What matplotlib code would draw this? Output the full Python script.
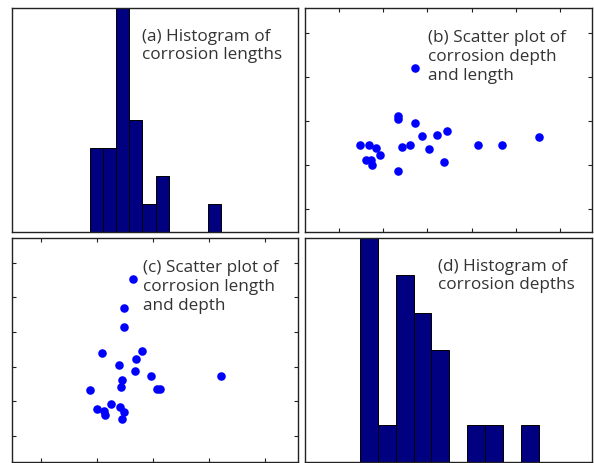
import numpy as np
import matplotlib.pyplot as plt

# corrosion defects: length (mm) and depth (mm), one entry per defect
length = [82, 73.5, 73.5, 54, 89.5, 84.5, 69, 83.5, 98, 160.5, 72.5,
          71, 43.5, 103, 106, 62, 50, 56, 56.5, 70, 73.5, 72.5]
depth = [4.52, 3.69, 3.15, 2.38, 2.45, 2.23, 2.04, 1.88, 1.72, 1.72, 1.62,
         1.42, 1.33, 1.34, 1.35, 0.93, 0.76, 0.72, 0.61, 0.84, 0.68, 0.48]

length_ticks = [0, 50, 100, 150, 200]
depth_ticks = [0, 1, 2, 3, 4, 5]
length_lim = (-26, 229)
depth_lim = (-0.76, 5.72)

labels = ['(a) Histogram of\ncorrosion lengths',
          '(b) Scatter plot of\ncorrosion depth\nand length',
          '(c) Scatter plot of\ncorrosion length\nand depth',
          '(d) Histogram of\ncorrosion depths']

W, H = 594, 464
fig = plt.figure(figsize=(W / 100, H / 100), dpi=100)
plt.rcParams['font.family'] = ['Open Sans', 'DejaVu Sans']

bar_color = '#000080'
dot_color = '#0000ff'
frame_color = '#222222'


def px_axes(x0, y0, x1, y1):
    # box given in pixels from the top left corner
    return fig.add_axes([x0 / W, 1 - y1 / H, (x1 - x0) / W, (y1 - y0) / H])


ax_a = px_axes(12, 9, 298, 233)
ax_b = px_axes(305, 9, 592, 233)
ax_c = px_axes(12, 239, 298, 463)
ax_d = px_axes(305, 239, 592, 463)

# histograms on the diagonal
ax_a.hist(length, bins=10, color=bar_color, edgecolor='black', linewidth=0.7)
ax_a.set_xlim(length_lim)
ax_a.set_ylim(0, 8)

ax_d.hist(depth, bins=10, color=bar_color, edgecolor='black', linewidth=0.7)
ax_d.set_xlim(depth_lim)
ax_d.set_ylim(0, 6)

for ax in (ax_a, ax_d):
    ax.set_xticks([])
    ax.set_yticks([])

# scatter plots off the diagonal
ax_b.scatter(depth, length, s=38, color=dot_color, linewidths=0)
ax_b.set_xlim(depth_lim)
ax_b.set_ylim(length_lim)
ax_b.set_xticks(depth_ticks)
ax_b.set_yticks(length_ticks)

ax_c.scatter(length, depth, s=38, color=dot_color, linewidths=0)
ax_c.set_xlim(length_lim)
ax_c.set_ylim(depth_lim)
ax_c.set_xticks(length_ticks)
ax_c.set_yticks(depth_ticks)

for ax in (ax_b, ax_c):
    ax.tick_params(direction='in', length=3, width=0.8, color=frame_color,
                   top=True, right=True, labelbottom=False, labelleft=False)

for ax in (ax_a, ax_b, ax_c, ax_d):
    for sp in ax.spines.values():
        sp.set_color(frame_color)
        sp.set_linewidth(1.0)

# panel captions, placed in pixels (left edge, vertical centre of block)
text_pos = [(142, 46), (428, 57), (143, 287), (438, 276)]
for (tx, ty), lab in zip(text_pos, labels):
    fig.text(tx / W, 1 - ty / H, lab, ha='left', va='center', fontsize=12.3,
             color='#333333', linespacing=1.22)

fig.savefig('out.png', dpi=100)
